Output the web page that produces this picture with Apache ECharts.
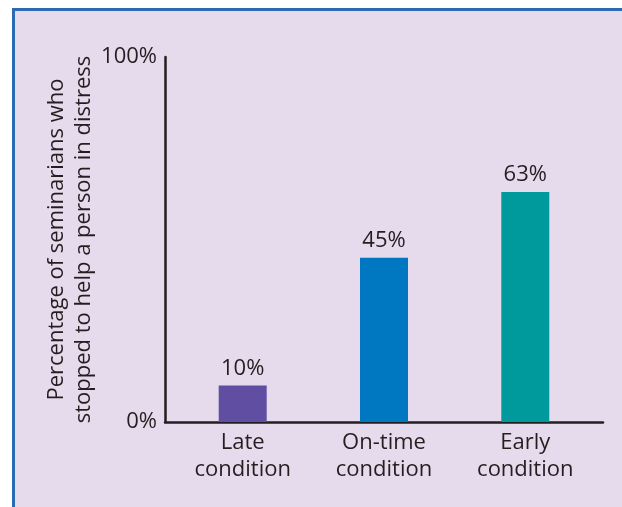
<!DOCTYPE html>
<html>
<head>
<meta charset="utf-8">
<script src="https://cdn.jsdelivr.net/npm/echarts@6/dist/echarts.min.js"></script>
<style>
  html, body { margin: 0; padding: 0; background: #ffffff; width: 622px; height: 507px; overflow: hidden; }
  #panel {
    position: absolute; left: 12px; top: 8px; right: 0; bottom: 0;
    background: #e6dbec;
    border-top: 3px solid #2c6ab4;
    border-left: 3px solid #2c6ab4;
    box-sizing: border-box;
  }
  #chart { position: absolute; left: 0; top: 0; width: 622px; height: 507px; }
</style>
</head>
<body>
<div id="panel"></div>
<div id="chart"></div>
<script>
// Conditions, in order of how much time the seminarians had
const categories = ['Late\ncondition', 'On-time\ncondition', 'Early\ncondition'];
// Percentage who stopped to help
const helpedPct = [10, 45, 63];
const barColors = ['#5f4ea2', '#0078c1', '#009a9d'];
const yTicks = [0, 100];

const textColor = '#231f20';
const font = '"Open Sans", "Noto Sans", sans-serif';
const fs = 22;

const chart = echarts.init(document.getElementById('chart'), null, { renderer: 'canvas' });

chart.setOption({
  backgroundColor: 'transparent',
  animation: false,
  textStyle: { fontFamily: font, color: textColor },
  grid: { left: 165, right: 19, top: 57, bottom: 85, outerBoundsMode: 'none' },
  xAxis: {
    type: 'value',
    min: -0.55,
    max: 2.55,
    axisLine: { show: true, onZero: false, lineStyle: { color: textColor, width: 2.5 } },
    axisTick: { show: false },
    splitLine: { show: false },
    axisLabel: {
      customValues: categories.map((c, i) => i),
      formatter: v => categories[Math.round(v)],
      fontSize: fs,
      lineHeight: 27,
      margin: 7,
      color: textColor,
      fontFamily: font
    }
  },
  yAxis: {
    type: 'value',
    min: yTicks[0],
    max: yTicks[yTicks.length - 1],
    interval: 100,
    name: 'Percentage of seminarians who\nstopped to help a person in distress',
    nameLocation: 'middle',
    nameGap: 68,
    nameMoveOverlap: false,
    nameTextStyle: { fontSize: fs, lineHeight: 27, color: textColor, fontFamily: font },
    axisLine: { show: true, onZero: false, lineStyle: { color: textColor, width: 2.5 } },
    axisTick: { show: false },
    splitLine: { show: false },
    axisLabel: {
      customValues: yTicks,
      formatter: v => v + '%',
      fontSize: fs,
      margin: 8,
      color: textColor,
      fontFamily: font
    }
  },
  series: [{
    type: 'bar',
    barWidth: 48,
    data: helpedPct.map((v, i) => ({ value: [i, v], itemStyle: { color: barColors[i] } })),
    label: {
      show: true,
      position: 'top',
      distance: 6,
      formatter: p => p.value[1] + '%',
      fontSize: fs,
      color: textColor,
      fontFamily: font
    }
  }]
});
</script>
</body>
</html>
